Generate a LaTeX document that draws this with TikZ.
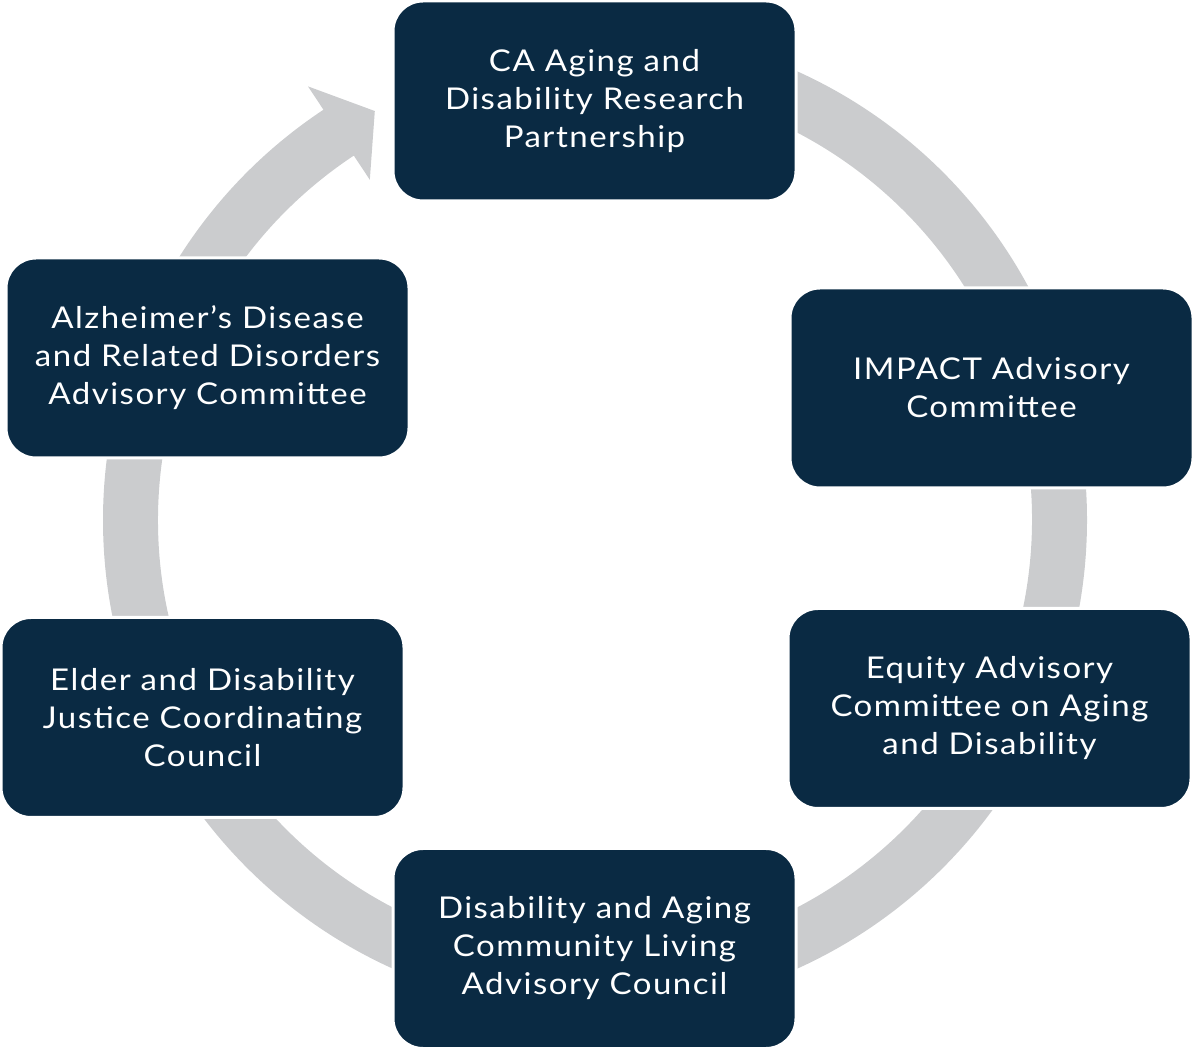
\documentclass[tikz,border=0pt]{standalone}
\usepackage{fontspec}
\setmainfont{Lato}[FakeStretch=1.1,LetterSpace=5]
\definecolor{navy}{HTML}{0A2A43}
\definecolor{ringgray}{HTML}{CBCCCE}
\begin{document}
\begin{tikzpicture}[x=1pt,y=1pt,
  box/.style={rectangle, rounded corners=30pt, fill=navy, draw=white, line width=3pt,
    minimum width=403pt, minimum height=200pt, text=white, align=center,
    font=\fontsize{30}{38}\selectfont, inner sep=0pt}]
\useasboundingbox (0,0) rectangle (1193,1049);
\coordinate (c) at (595,529);
% circular arrow ring
\fill[ringgray, shift={(c)}] (90:492) arc[start angle=90, end angle=-236.5, radius=492]
  -- (-236.5:520) -- (-241.7:464.5) -- (-236.5:408) -- (-236.5:437)
  arc[start angle=-236.5, end angle=90, radius=437] -- cycle;
% boxes
\node[box] (b1) at (594.5,948) {CA Aging and\\Disability Research\\Partnership};
\node[box] (b2) at (991.5,661) {IMPACT Advisory\\Committee};
\node[box] (b3) at (989.5,340.5) {Equity Advisory\\Committee on Aging\\and Disability};
\node[box] (b4) at (594.5,100.5) {Disability and Aging\\Community Living\\Advisory Council};
\node[box] (b5) at (202.5,331.5) {Elder and Disability\\Justice Coordinating\\Council};
\node[box] (b6) at (207.5,691) {Alzheimer’s Disease\\and Related Disorders\\Advisory Committee};
\end{tikzpicture}
\end{document}
